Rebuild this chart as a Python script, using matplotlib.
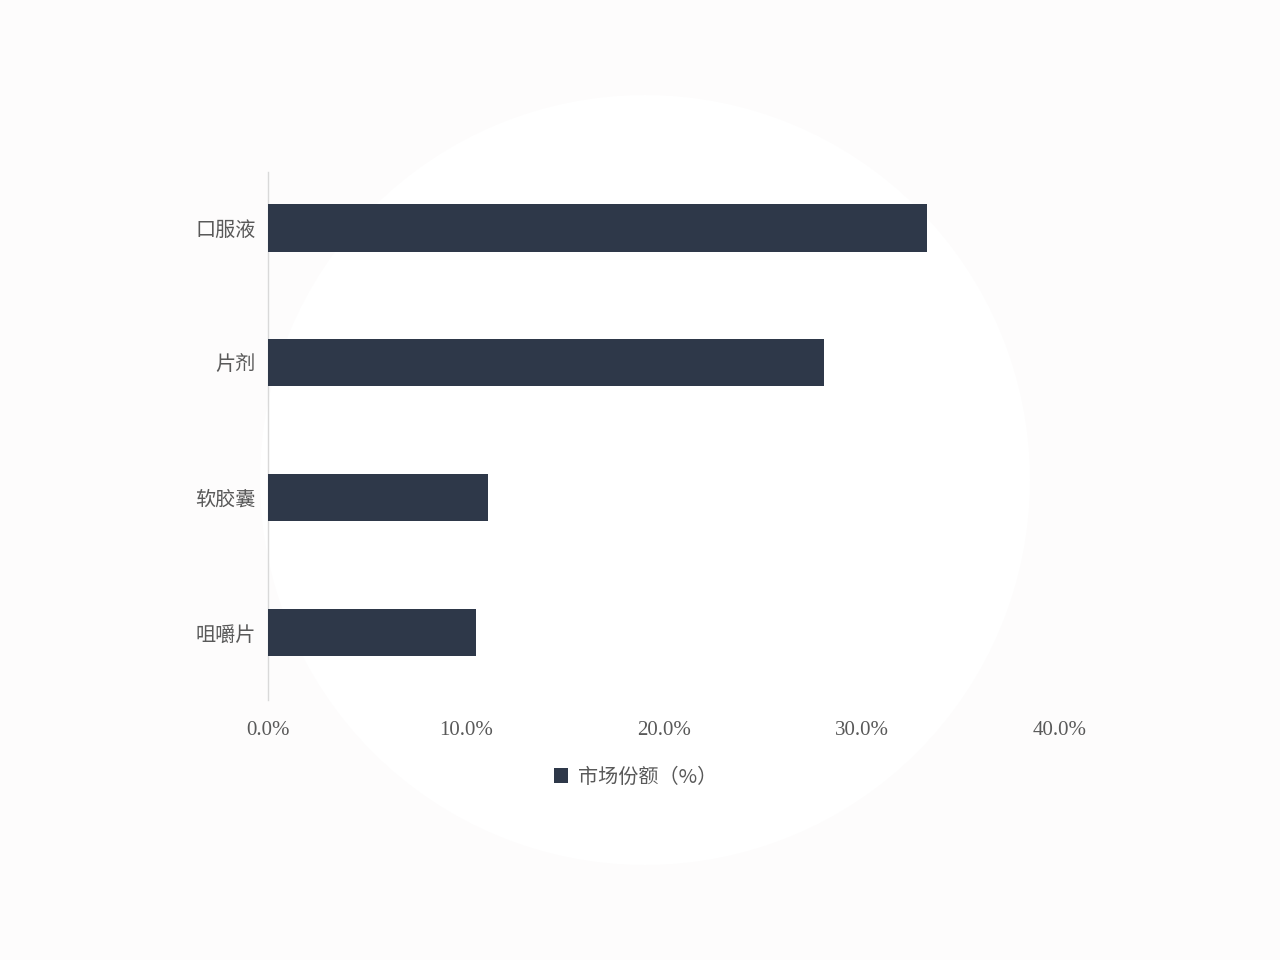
import matplotlib
matplotlib.use("Agg")
import matplotlib.pyplot as plt
from matplotlib.patches import Circle, Patch

categories = ["口服液", "片剂", "软胶囊", "咀嚼片"]
values = [33.3, 28.1, 11.1, 10.5]
xticks = [0, 10, 20, 30, 40]
xtick_labels = ["0.0%", "10.0%", "20.0%", "30.0%", "40.0%"]
series_name = "市场份额（%）"

plt.rcParams['font.family'] = ['Noto Sans CJK SC', 'DejaVu Sans']

fig = plt.figure(figsize=(12.8, 9.6), dpi=100, facecolor='#fdfcfc')
# faint white circular backdrop
bg = fig.add_axes([0, 0, 1, 1], zorder=-10)
bg.set_xlim(0, 1280)
bg.set_ylim(960, 0)
bg.set_aspect('equal')
bg.axis('off')
bg.add_patch(Circle((645, 480), 385, facecolor='white', edgecolor='none'))

ax = fig.add_axes([268/1280, 1-700/960, (1060-268)/1280, (700-172)/960])
ax.set_facecolor('none')
bar_color = '#2e3849'
ypos = list(range(len(categories)))
ax.barh(ypos, values, height=0.35, color=bar_color, zorder=3)
ax.set_xlim(0, 40)
ax.set_ylim(3.5, -0.415)
ax.set_yticks(ypos)
ax.set_yticklabels(categories, fontsize=14.5, color='#595959', fontweight='light')
ax.set_xticks(xticks)
ax.set_xticklabels(xtick_labels, fontsize=15, color='#595959', family=['Liberation Serif', 'DejaVu Serif'])
ax.tick_params(axis='both', length=0)
ax.tick_params(axis='x', pad=15)
ax.tick_params(axis='y', pad=9)
for s in ['top', 'right', 'bottom']:
    ax.spines[s].set_visible(False)
ax.spines['left'].set_color('#d9d9d9')
ax.spines['left'].set_linewidth(1.0)

handles = [Patch(facecolor=bar_color, edgecolor='none', label=series_name)]
leg = fig.legend(handles=handles, loc='center', bbox_to_anchor=(636/1280, 1-777/960),
                 frameon=False, fontsize=14.5, handlelength=0.7, handleheight=0.7,
                 handletextpad=0.5)
for t in leg.get_texts():
    t.set_color('#595959')
    t.set_fontweight('light')

fig.savefig('out.png', dpi=100, facecolor=fig.get_facecolor())
